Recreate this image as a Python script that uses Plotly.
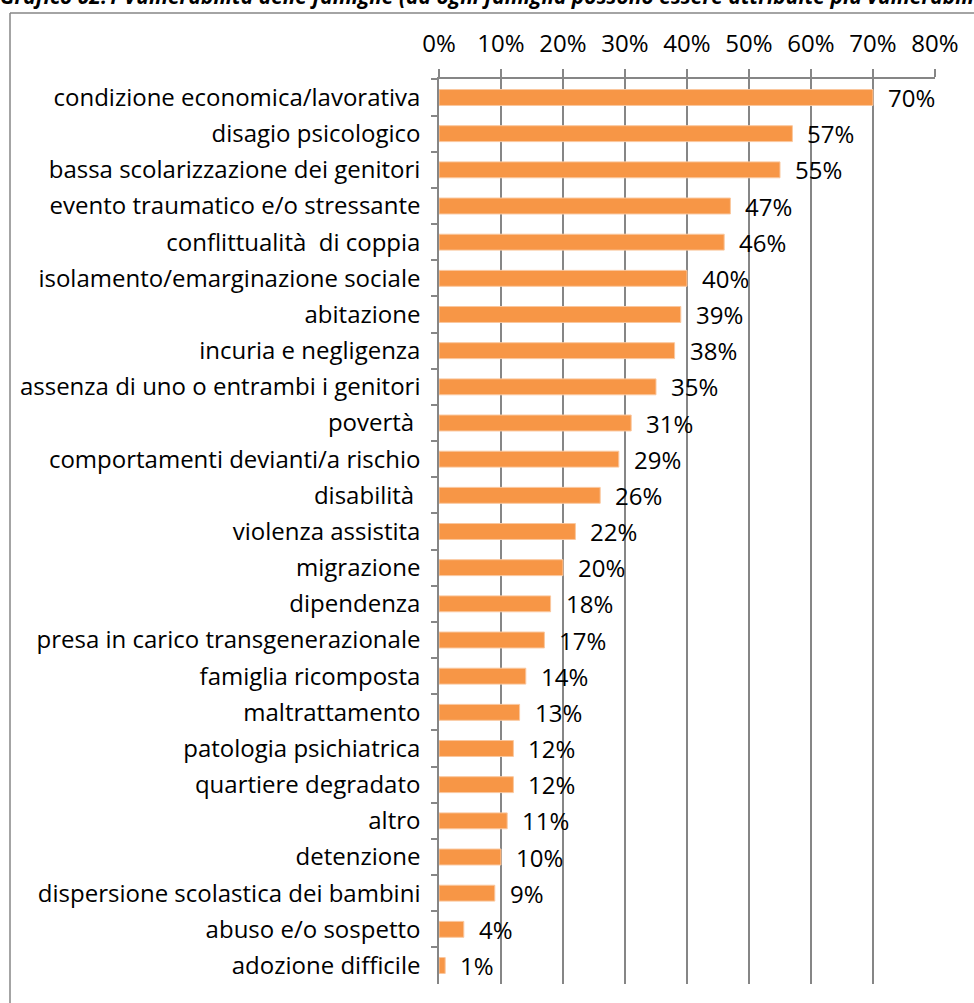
import plotly.graph_objects as go

# Family vulnerability categories (a family may have several)
categories = [
    "condizione economica/lavorativa",
    "disagio psicologico",
    "bassa scolarizzazione dei genitori",
    "evento traumatico e/o stressante",
    "conflittualità  di coppia",
    "isolamento/emarginazione sociale",
    "abitazione",
    "incuria e negligenza",
    "assenza di uno o entrambi i genitori",
    "povertà ",
    "comportamenti devianti/a rischio",
    "disabilità ",
    "violenza assistita",
    "migrazione",
    "dipendenza",
    "presa in carico transgenerazionale",
    "famiglia ricomposta",
    "maltrattamento",
    "patologia psichiatrica",
    "quartiere degradato",
    "altro",
    "detenzione",
    "dispersione scolastica dei bambini",
    "abuso e/o sospetto",
    "adozione difficile",
]
values = [70, 57, 55, 47, 46, 40, 39, 38, 35, 31, 29, 26, 22, 20, 18, 17,
          14, 13, 12, 12, 11, 10, 9, 4, 1]
x_ticks = [0, 10, 20, 30, 40, 50, 60, 70, 80]
title_text = ("Grafico 02.1 Vulnerabilità delle famiglie (ad ogni famiglia "
              "possono essere attribuite più vulnerabilità)")

W, H = 974, 1003
L, R, T, B = 439, 935, 79, 984  # plot area in pixels

FONT = "Open Sans"
FS = 24
GRAY = "#868686"
ORANGE = "#F79646"

# keep repeated / trailing spaces visible in SVG text
labels = [c.replace(" ", "\u00a0") for c in categories]
fracs = [v / 100 for v in values]

fig = go.Figure(
    go.Bar(
        x=fracs,
        y=labels,
        orientation="h",
        marker=dict(color=ORANGE, line=dict(color="#FAC79E", width=1)),
        hoverinfo="skip",
    )
)

# value labels at the end of each bar
for lab, f, v in zip(labels, fracs, values):
    fig.add_annotation(
        x=f, y=lab, xref="x", yref="y",
        text=f"{v}%", showarrow=False,
        xanchor="left", yanchor="middle", xshift=13,
        font=dict(family=FONT, size=FS, color="#000000"),
    )

# chart frame (left and top edges)
px = lambda p: (p - L) / (R - L)
py = lambda p: (B - p) / (B - T)
fig.add_shape(type="line", xref="paper", yref="paper",
              x0=px(10), x1=px(10), y0=py(13), y1=py(1010),
              line=dict(color=GRAY, width=1.5))
fig.add_shape(type="line", xref="paper", yref="paper",
              x0=px(10), x1=px(990), y0=py(13), y1=py(13),
              line=dict(color=GRAY, width=1.5))

# title sitting at the very top edge
fig.add_annotation(
    x=px(-2), y=py(12), xref="paper", yref="paper",
    xanchor="left", yanchor="bottom", showarrow=False,
    text=f"<b><i>{title_text}</i></b>",
    font=dict(family=FONT, size=21, color="#000000"),
)

fig.update_layout(
    width=W, height=H,
    margin=dict(l=L, r=W - R, t=T, b=H - B, pad=0),
    paper_bgcolor="white", plot_bgcolor="white",
    bargap=0.56,
    showlegend=False,
    font=dict(family=FONT, size=FS, color="#000000"),
)

fig.update_xaxes(
    side="top",
    range=[0, 0.8],
    tickvals=[t / 100 for t in x_ticks],
    ticktext=[f"{t}%" for t in x_ticks],
    showgrid=True, gridcolor=GRAY, gridwidth=1.5,
    showline=True, linecolor=GRAY, linewidth=1.5,
    ticks="outside", ticklen=8, tickcolor=GRAY, tickwidth=1.5,
    ticklabelstandoff=8,
    zeroline=False,
    tickfont=dict(family=FONT, size=FS, color="#000000"),
)
fig.update_yaxes(
    type="category",
    autorange="reversed",
    showgrid=False,
    showline=True, linecolor=GRAY, linewidth=1.5,
    ticks="outside", ticklen=6, tickcolor=GRAY, tickwidth=1.5,
    tickson="boundaries",
    ticklabelstandoff=12,
    tickfont=dict(family=FONT, size=FS, color="#000000"),
)

fig.write_html("out.html")
